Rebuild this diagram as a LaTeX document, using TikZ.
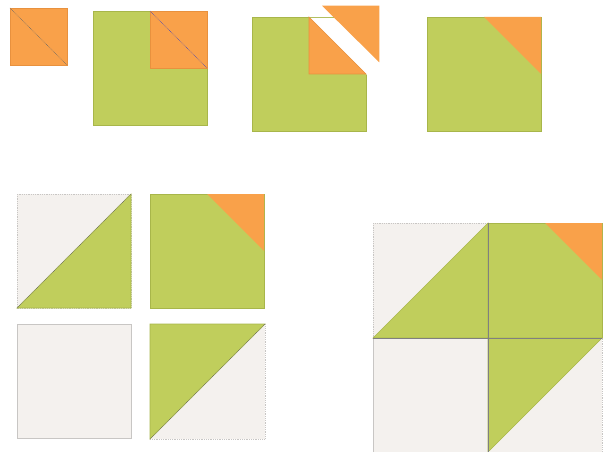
\documentclass[tikz,border=0pt]{standalone}
\definecolor{qorange}{RGB}{249,161,74}
\definecolor{qorangeedge}{RGB}{232,145,62}
\definecolor{qgreen}{RGB}{192,206,92}
\definecolor{qgreenedge}{RGB}{168,182,74}
\definecolor{qgray}{RGB}{244,241,238}
\definecolor{qgrayedge}{RGB}{200,198,196}
\tikzset{
  orangepatch/.style={fill=qorange,draw=qorangeedge,line width=0.6pt},
  greenpatch/.style={fill=qgreen,draw=qgreenedge,line width=0.6pt},
  graypatch/.style={fill=qgray,draw=qgrayedge,line width=0.6pt},
  graydots/.style={fill=qgray,draw=qgrayedge,line width=0.8pt,densely dotted},
  seam/.style={draw=black!60,line width=0.6pt,densely dotted},
  blueseam/.style={draw=blue!45!gray,line width=0.6pt,densely dotted},
  divider/.style={draw=black!50,line width=0.7pt}
}
\begin{document}
\begin{tikzpicture}[x=1pt,y=-1pt]
\useasboundingbox (0,0) rectangle (605,452);
% 1: small orange square with diagonal
\path[orangepatch] (10,8) rectangle (67,65);
\path[seam] (10,8) -- (67,65);
% 2: green square with orange square
\path[greenpatch] (93,11) rectangle (207,125);
\path[orangepatch] (150,11) rectangle (207,68);
\path[blueseam] (150,11) -- (207,68);
% 3: green square, folded corner
\path[greenpatch] (252,17) rectangle (366,131);
\fill[white] (309,18) -- (367,18) -- (367,75) -- cycle;
\path[orangepatch] (309,17) -- (366,74) -- (309,74) -- cycle;
\path[fill=qorange] (322,5.7) -- (379.3,5.7) -- (379.3,62.3) -- cycle;
% 4: green square with orange corner
\path[greenpatch] (427,17) rectangle (541,131);
\path[fill=qorange] (484,17) -- (541,17) -- (541,74) -- cycle;
% bottom left four blocks
\path[graydots] (17,194) rectangle (131,308);
\path[greenpatch] (17,308) -- (131,194) -- (131,308) -- cycle;
\path[seam] (17,308) -- (131,194);
\path[greenpatch] (150,194) rectangle (264,308);
\path[fill=qorange] (207,194) -- (264,194) -- (264,251) -- cycle;
\path[graypatch] (17,324) rectangle (131,438);
\path[graydots] (150,324) rectangle (265,439);
\path[greenpatch] (150,324) -- (265,324) -- (150,439) -- cycle;
\path[seam] (150,439) -- (265,324);
% big assembled block
\path[graydots] (373,223) rectangle (488,338);
\path[greenpatch] (373,338) -- (488,223) -- (488,338) -- cycle;
\path[greenpatch] (488,223) rectangle (602,338);
\path[fill=qorange] (545,223) -- (602,223) -- (602,280) -- cycle;
\path[graypatch] (373,338) rectangle (488,452);
\path[graydots] (488,338) rectangle (602,452);
\path[greenpatch] (488,338) -- (602,338) -- (488,452) -- cycle;
\path[divider] (488,223) -- (488,452);
\path[divider] (373,338) -- (602,338);
\end{tikzpicture}
\end{document}
